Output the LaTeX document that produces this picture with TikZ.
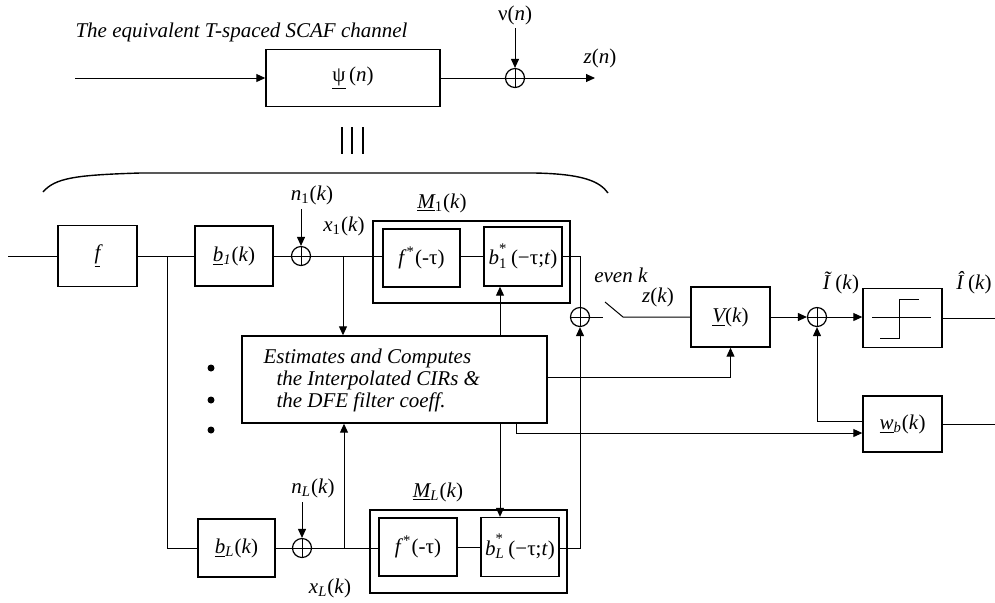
\documentclass[tikz,border=0pt]{standalone}
\usepackage{fontspec}
\setmainfont{Liberation Serif}
\usetikzlibrary{arrows.meta,calc}
\newcommand{\stk}[2]{\textit{b}\rlap{\raisebox{0.35ex}{\textsuperscript{*}}}\textsubscript{#1}}
\begin{document}
\begin{tikzpicture}[x=0.5pt,y=-0.5pt,
  font=\fontsize{10.5}{12.5}\selectfont,
  every path/.style={line width=0.5pt},
  arr/.style={-{Triangle[length=4.5pt,width=4pt]}},
  blk/.style={draw,line width=0.7pt,inner sep=0pt,rectangle},
  sum/.style={circle,draw,line width=0.6pt,minimum size=9.5pt,inner sep=0pt,
    path picture={\draw[line width=0.5pt] (path picture bounding box.north) -- (path picture bounding box.south)
      (path picture bounding box.west) -- (path picture bounding box.east);}},
  lab/.style={inner sep=0pt},
  dot/.style={circle,fill,inner sep=0pt,minimum size=3.5pt}]
\useasboundingbox (0,0) rectangle (995,602);

% ---------- top: equivalent channel ----------
\node[lab,anchor=west] (title) at (75,32) {\itshape The equivalent T-spaced SCAF channel};
\coordinate (in0) at (75,78);
\node[blk,minimum width=87pt,minimum height=28.5pt] (psi) at (353,78) {\underline{ψ}\,(\textit{n})};
\node[sum] (sumT) at (515,78) {};
\node[lab] (nulab) at (515,15) {ν(\textit{n})};
\coordinate (nutop) at (515,28);
\coordinate (zend) at (595,78);
\node[lab] (zlab) at (600,58) {\textit{z}(\textit{n})};
\draw[arr] (in0) -- (psi);
\draw (psi) -- (sumT);
\draw[arr] (sumT) -- (zend);
\draw[arr] (nutop) -- (sumT.north);

% equivalence sign and brace
\draw[line width=0.7pt] (342,127) -- (342,154) (352,127) -- (352,154) (363,127) -- (363,154);
\draw[line width=0.7pt] (43,192) .. controls (55,178) and (75,175) .. (140,173) -- (535,173)
  .. controls (585,174) and (600,182) .. (608,193);

% ---------- branch 1 ----------
\coordinate (in1) at (8,256);
\node[blk,minimum width=39.5pt,minimum height=30.5pt] (f) at (97.5,256) {\textit{\underline{f}}};
\node[blk,minimum width=39pt,minimum height=30pt] (b1) at (234,256) {\textit{\underline{b}\textsubscript{1}}(\textit{k})};
\node[sum] (sum1) at (301,256) {};
\node[lab] (n1lab) at (312,195) {\textit{n}\textsubscript{1}(\textit{k})};
\coordinate (n1top) at (301,209);
\node[lab] (x1lab) at (344,226) {\textit{x}\textsubscript{1}(\textit{k})};
\node[blk,minimum width=98.5pt,minimum height=41pt] (M1) at (471.5,262) {};
\node[lab] (M1lab) at (442,203) {\textit{\underline{M}}\textsubscript{1}(\textit{k})};
\node[blk,minimum width=38.5pt,minimum height=29pt] (f1) at (421.5,258) {\textit{f}\textsuperscript{*}(-τ)};
\node[blk,minimum width=39pt,minimum height=29.5pt] (b1s) at (523,256.5) {\stk{1}{}\,(−τ;\textit{t})};
\coordinate (j0) at (167,256);
\coordinate (j1) at (343,256);

\draw (in1) -- (f);
\draw (f) -- (b1);
\draw (b1) -- (sum1);
\draw[arr] (n1top) -- (sum1.north);
\draw (sum1.east) -- (sum1.east -| f1.west);
\draw (f1.east |- b1s.west) -- (b1s.west);

% ---------- estimator ----------
\node[blk,minimum width=152.5pt,minimum height=43.5pt] (est) at (394.5,379.5) {};
\node[lab,anchor=west,align=left,font=\fontsize{10.5}{11}\selectfont\itshape] (esttxt) at (263,380)
  {Estimates and Computes\\\hspace*{6.5pt}the Interpolated CIRs \&\\\hspace*{6.5pt}the DFE filter coeff.};

\node[dot] (d1) at (211,368) {};
\node[dot] (d2) at (211,400) {};
\node[dot] (d3) at (211,430) {};

% ---------- branch L ----------
\node[blk,minimum width=38.5pt,minimum height=29pt] (bL) at (236.5,548) {\textit{\underline{b}\textsubscript{L}}(\textit{k})};
\node[sum] (sumL) at (302,548) {};
\node[lab] (nLlab) at (313,488) {\textit{n}\textsubscript{\textit{L}}(\textit{k})};
\coordinate (nLtop) at (302,502);
\node[lab] (xLlab) at (330,588) {\textit{x}\textsubscript{\textit{L}}(\textit{k})};
\node[blk,minimum width=98.5pt,minimum height=41.5pt] (ML) at (468.5,551.5) {};
\node[lab] (MLlab) at (438,492) {\textit{\underline{M}}\textsubscript{\textit{L}}(\textit{k})};
\node[blk,minimum width=39pt,minimum height=29pt] (fL) at (418,547) {\textit{f}\textsuperscript{*}(-τ)};
\node[blk,minimum width=39pt,minimum height=29.5pt] (bLs) at (520,547) {\stk{\textit{L}}{}\,(−τ;\textit{t})};
\coordinate (jL) at (344,548);

\draw (j0) |- (bL.west);
\draw (bL.east |- sumL) -- (sumL.west);
\draw[arr] (nLtop) -- (sumL.north);
\draw (sumL.east) -- (sumL.east -| fL.west);
\draw (fL.east |- bLs.west) -- (bLs.west);

% connections to/from estimator
\draw[arr] (j1) -- (j1 |- est.north);
\draw[arr] (jL) -- (jL |- est.south);
\coordinate (a1) at (500,286);
\draw[arr] (a1 |- est.north) -- (a1 |- b1s.south);
\coordinate (a2) at (500,517);
\draw[arr] (a2 |- est.south) -- (a2 |- bLs.north);

% ---------- combiner, switch, equaliser ----------
\node[sum] (sum2) at (580,317) {};
\draw (b1s.east) -| (sum2.north);
\draw[arr] (bLs.east |- sumL) -| (sum2.south);
\coordinate (sw0) at (603,317);
\coordinate (sw1) at (605,302);
\coordinate (sw2) at (623,317);
\node[lab] (evenlab) at (621,275) {\textit{even k}};
\node[lab] (zklab) at (658,297) {\textit{z}(\textit{k})};
\node[blk,minimum width=39.5pt,minimum height=30pt] (V) at (730.5,317) {\textit{\underline{V}}(\textit{k})};
\node[sum] (sum3) at (817,317) {};
\node[blk,minimum width=39.5pt,minimum height=29.5pt] (dec) at (902.5,318) {};
\node[lab] (Itil) at (841,283) {\textit{Ĩ}\,(\textit{k})};
\node[lab] (Ihat) at (974,283) {\textit{Î}\,(\textit{k})};
\node[blk,minimum width=39.5pt,minimum height=28pt] (wb) at (902.5,424) {\textit{\underline{w}\textsubscript{b}}(\textit{k})};
\coordinate (out1) at (995,318);
\coordinate (out2) at (995,424);

\draw (sum2.east) -- (sw0);
\draw (sw1) -- (sw2) -- (V.west |- sw2);
\draw[arr] (V) -- (sum3);
\draw[arr] (sum3) -- (dec.west |- sum3);
\draw (dec.east |- out1) -- (out1);
\draw (wb.east) -- (out2);
\draw[arr] ([yshift=1.5pt]wb.west) -| (sum3.south);
\draw[arr] ([yshift=1.25pt]est.east) -| (V.south);
\draw[arr] ([xshift=60.75pt]est.south) |- ([yshift=-4.5pt]wb.west);

% decision device symbol
\draw (872,317) -- (931,317);
\draw (880,338) -- (899,338) -- (899,299) -- (919,299);
\end{tikzpicture}
\end{document}
